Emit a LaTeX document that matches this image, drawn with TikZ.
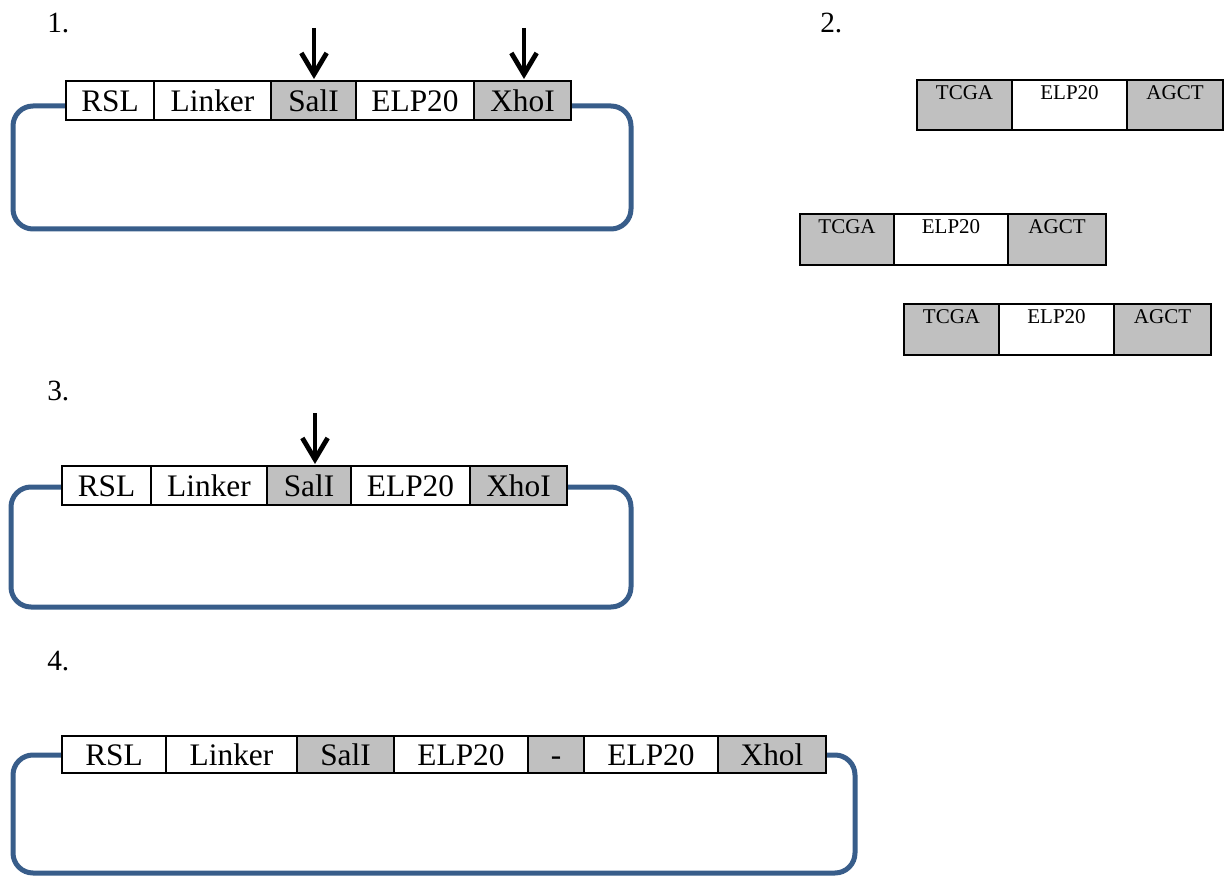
\documentclass[tikz,border=0pt]{standalone}
\usepackage{fontspec}
\setmainfont{Liberation Serif}
\usetikzlibrary{fit,backgrounds,arrows.meta}
\definecolor{loopblue}{RGB}{56,93,138}
\definecolor{cellgray}{RGB}{192,192,192}
\newcommand{\bigfont}{\fontsize{23.5pt}{28pt}\selectfont}
\newcommand{\smallfont}{\fontsize{15.75pt}{19pt}\selectfont}
\newcommand{\numfont}{\fontsize{22pt}{26pt}\selectfont}
\tikzset{
  cell/.style={draw=black, line width=1.5pt, fill=white, inner sep=0pt},
  graycell/.style={cell, fill=cellgray},
  celltext/.style={font=\bigfont, inner sep=0pt, anchor=base},
  scell/.style={draw=black, line width=2pt, fill=white, inner sep=0pt},
  sgraycell/.style={scell, fill=cellgray},
  stext/.style={font=\smallfont, inner sep=0pt, anchor=base},
  numlabel/.style={font=\numfont, inner sep=0pt, anchor=base west},
  loopline/.style={draw=loopblue, line width=3.75pt, rounded corners=15pt},
  cutarrow/.style={line width=3pt, -{Straight Barb[length=16pt,width=19pt,line width=3.6pt]}}
}
% #1 style, #2 corners, #3 name, #4 text
\newcommand{\bigcell}[4]{%
  \node[#1, fit={#2}] (#3) {};
  \node[celltext] (#3t) at ([yshift=-7.9pt]#3.center) {#4};}
\newcommand{\smallcell}[4]{%
  \node[#1, fit={#2}] (#3) {};
  \node[stext] (#3t) at ([yshift=-15.5pt]#3.north) {#4};}
\begin{document}
\begin{tikzpicture}[x=0.75pt,y=-0.75pt]
\useasboundingbox (0,0) rectangle (1225,877);

% ---------- numbers ----------
\node[numlabel] (n1) at (47,33) {1.};
\node[numlabel] (n2) at (820,33) {2.};
\node[numlabel] (n3) at (47,401) {3.};
\node[numlabel] (n4) at (47,670) {4.};

% ---------- panel 1 ----------
\bigcell{cell}{(66,81)(154,120)}{p1rsl}{RSL}
\bigcell{cell}{(154,81)(271,120)}{p1lnk}{Linker}
\bigcell{graycell}{(271,81)(356,120)}{p1sal}{SalI}
\bigcell{cell}{(356,81)(474,120)}{p1elp}{ELP20}
\bigcell{graycell}{(474,81)(571,120)}{p1xho}{XhoI}
\coordinate (l1a) at (13,106);
\coordinate (l1b) at (13,229);
\coordinate (l1c) at (631,229);
\coordinate (l1d) at (631,106);
\begin{scope}[on background layer]
\draw[loopline] (p1rsl.west |- l1a) -- (l1a) -- (l1b) -- (l1c) -- (l1d) -- (p1xho.east |- l1d);
\end{scope}
\coordinate (a1s) at (314,28);
\coordinate (a1e) at (314,79);
\coordinate (a2s) at (524,28);
\coordinate (a2e) at (524,79);
\draw[cutarrow] (a1s) -- (a1e);
\draw[cutarrow] (a2s) -- (a2e);

% ---------- panel 2 ----------
\smallcell{sgraycell}{(917,80)(1012,130)}{p2a1}{TCGA}
\smallcell{scell}{(1012,80)(1127,130)}{p2a2}{ELP20}
\smallcell{sgraycell}{(1127,80)(1223,130)}{p2a3}{AGCT}

\smallcell{sgraycell}{(800,214)(894,265)}{p2b1}{TCGA}
\smallcell{scell}{(894,214)(1008,265)}{p2b2}{ELP20}
\smallcell{sgraycell}{(1008,214)(1106,265)}{p2b3}{AGCT}

\smallcell{sgraycell}{(904,304)(999,355)}{p2c1}{TCGA}
\smallcell{scell}{(999,304)(1114,355)}{p2c2}{ELP20}
\smallcell{sgraycell}{(1114,304)(1211,355)}{p2c3}{AGCT}

% ---------- panel 3 ----------
\bigcell{cell}{(62,466)(151,505)}{p3rsl}{RSL}
\bigcell{cell}{(151,466)(267,505)}{p3lnk}{Linker}
\bigcell{graycell}{(267,466)(351,505)}{p3sal}{SalI}
\bigcell{cell}{(351,466)(470,505)}{p3elp}{ELP20}
\bigcell{graycell}{(470,466)(567,505)}{p3xho}{XhoI}
\coordinate (l3a) at (11,487);
\coordinate (l3b) at (11,607);
\coordinate (l3c) at (631,607);
\coordinate (l3d) at (631,487);
\begin{scope}[on background layer]
\draw[loopline] (p3rsl.west |- l3a) -- (l3a) -- (l3b) -- (l3c) -- (l3d) -- (p3xho.east |- l3d);
\end{scope}
\coordinate (a3s) at (315,413);
\coordinate (a3e) at (315,464);
\draw[cutarrow] (a3s) -- (a3e);

% ---------- panel 4 ----------
\bigcell{cell}{(62,736)(166,773)}{p4rsl}{RSL}
\bigcell{cell}{(166,736)(297,773)}{p4lnk}{Linker}
\bigcell{graycell}{(297,736)(394,773)}{p4sal}{SalI}
\bigcell{cell}{(394,736)(528,773)}{p4elp}{ELP20}
\bigcell{graycell}{(528,736)(584,773)}{p4dash}{-}
\bigcell{cell}{(584,736)(718,773)}{p4elpb}{ELP20}
\bigcell{graycell}{(718,736)(826,773)}{p4xho}{Xhol}
\coordinate (l4a) at (13,755);
\coordinate (l4b) at (13,873);
\coordinate (l4c) at (855,873);
\coordinate (l4d) at (855,755);
\begin{scope}[on background layer]
\draw[loopline] (p4rsl.west |- l4a) -- (l4a) -- (l4b) -- (l4c) -- (l4d) -- (p4xho.east |- l4d);
\end{scope}
\end{tikzpicture}
\end{document}
